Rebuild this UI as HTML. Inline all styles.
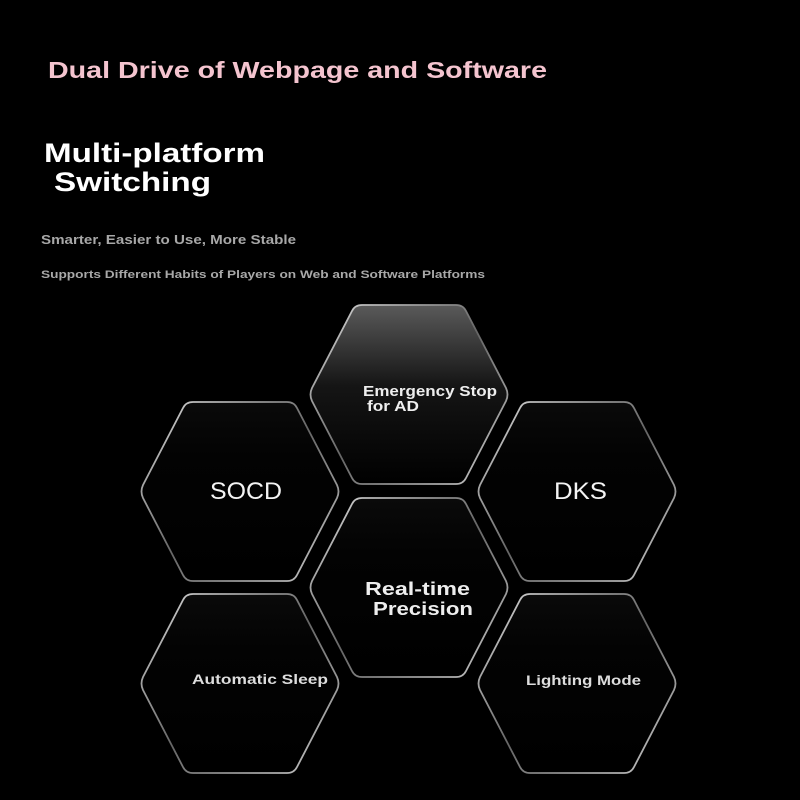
<!DOCTYPE html>
<html><head><meta charset="utf-8"><style>
body{margin:0;width:800px;height:800px;background:#000;overflow:hidden;font-family:"Liberation Sans",Arial,sans-serif;}
</style></head><body>
<svg width="800" height="800" viewBox="0 0 800 800" xmlns="http://www.w3.org/2000/svg" style="position:absolute;left:0;top:0">
<defs>
<linearGradient id="gtop" x1="0" y1="0" x2="0" y2="1">
<stop offset="0" stop-color="#5a5a5a"/><stop offset="0.45" stop-color="#151515"/><stop offset="1" stop-color="#000"/>
</linearGradient>
<linearGradient id="gdark" x1="0" y1="0" x2="0" y2="1">
<stop offset="0" stop-color="#0a0a0a"/><stop offset="0.3" stop-color="#030303"/><stop offset="1" stop-color="#000"/>
</linearGradient>
<linearGradient id="st" x1="0" y1="0" x2="1" y2="1">
<stop offset="0" stop-color="#ddd"/><stop offset="0.5" stop-color="#666"/><stop offset="1" stop-color="#ccc"/>
</linearGradient>
<symbol id="hex" viewBox="0 0 206 183">
<path d="M56 2 L150 2 Q157 2 160 8 L200 85 Q203 91.5 200 98 L160 175 Q157 181 150 181 L56 181 Q49 181 46 175 L6 98 Q3 91.5 6 85 L46 8 Q49 2 56 2 Z" fill="inherit" stroke="url(#st)" stroke-width="1.8"/>
</symbol>
</defs>
<g fill="url(#gtop)"><use href="#hex" x="306" y="303" width="206" height="183"/></g>
<g fill="url(#gdark)">
<use href="#hex" x="137" y="400" width="206" height="183"/>
<use href="#hex" x="474" y="400" width="206" height="183"/>
<use href="#hex" x="306" y="496" width="206" height="183"/>
<use href="#hex" x="137" y="592" width="206" height="183"/>
<use href="#hex" x="474" y="592" width="206" height="183"/>
</g>
<g font-family="Liberation Sans, Arial, sans-serif" fill="#fff" font-weight="bold">
<text x="48" y="78" fill="#f4c4cf" font-size="23" textLength="499" lengthAdjust="spacingAndGlyphs">Dual Drive of Webpage and Software</text>
<text x="44" y="162" font-size="27" textLength="221" lengthAdjust="spacingAndGlyphs">Multi-platform</text>
<text x="54" y="191" font-size="27" textLength="157" lengthAdjust="spacingAndGlyphs">Switching</text>
<text x="41" y="244" fill="#a8a8a8" font-size="12.5" textLength="255" lengthAdjust="spacingAndGlyphs">Smarter, Easier to Use, More Stable</text>
<text x="41" y="278" fill="#a8a8a8" font-size="11" textLength="444" lengthAdjust="spacingAndGlyphs">Supports Different Habits of Players on Web and Software Platforms</text>
<text x="363" y="396" font-size="14.5" fill="#eee" textLength="134" lengthAdjust="spacingAndGlyphs">Emergency Stop</text>
<text x="367" y="411" font-size="14.5" fill="#eee" textLength="52" lengthAdjust="spacingAndGlyphs">for AD</text>
<text x="210" y="499" font-size="24" font-weight="normal" fill="#f4f4f4" textLength="72" lengthAdjust="spacingAndGlyphs">SOCD</text>
<text x="554" y="499" font-size="24" font-weight="normal" fill="#f4f4f4" textLength="53" lengthAdjust="spacingAndGlyphs">DKS</text>
<text x="365" y="595" font-size="18" fill="#eee" textLength="105" lengthAdjust="spacingAndGlyphs">Real-time</text>
<text x="373" y="615" font-size="18" fill="#eee" textLength="100" lengthAdjust="spacingAndGlyphs">Precision</text>
<text x="192" y="684" font-size="14" fill="#ddd" textLength="136" lengthAdjust="spacingAndGlyphs">Automatic Sleep</text>
<text x="526" y="685" font-size="14" fill="#ddd" textLength="115" lengthAdjust="spacingAndGlyphs">Lighting Mode</text>
</g>
</svg>
</body></html>
